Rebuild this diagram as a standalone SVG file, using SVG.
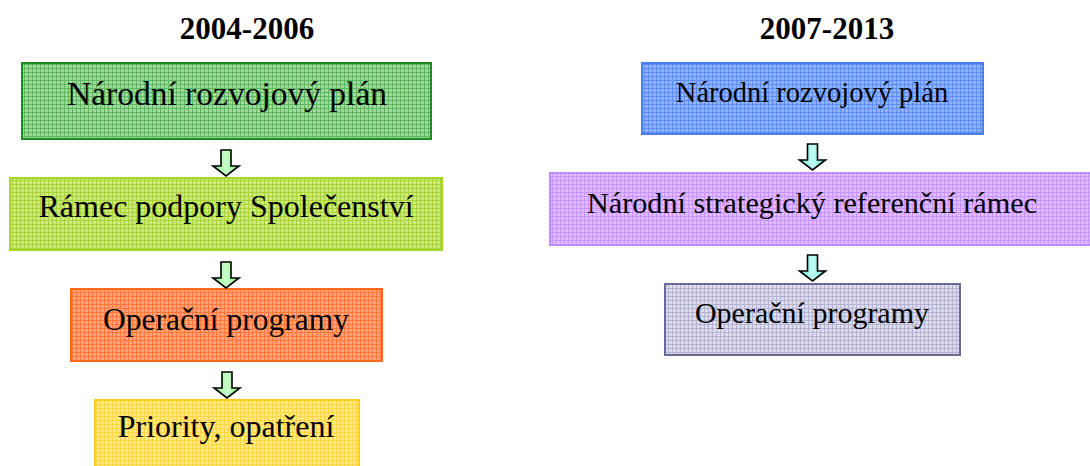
<svg xmlns="http://www.w3.org/2000/svg" width="1090" height="466" viewBox="0 0 1090 466">
<style>
.t{font-family:"Liberation Serif","Times New Roman",serif;fill:#000;text-anchor:middle}
.h{font-family:"Liberation Serif","Times New Roman",serif;font-weight:bold;font-size:31px;text-anchor:middle;fill:#000}
.b{stroke-width:2}
.ar{stroke:#000;stroke-width:1.6;stroke-linejoin:miter}
</style>
<defs>
<pattern id="pg1" width="4" height="4" patternUnits="userSpaceOnUse"><rect width="4" height="4" fill="#9fdb9f"/><path d="M0 .5H4M.5 0V4" stroke="#5fb85f" stroke-width="1"/></pattern>
<pattern id="pg2" width="4" height="4" patternUnits="userSpaceOnUse"><rect width="4" height="4" fill="#cdea7a"/><path d="M0 .5H4M.5 0V4" stroke="#a9d43c" stroke-width="1"/></pattern>
<pattern id="pg3" width="4" height="4" patternUnits="userSpaceOnUse"><rect width="4" height="4" fill="#ffa27a"/><path d="M0 .5H4M.5 0V4" stroke="#ff7a3a" stroke-width="1"/></pattern>
<pattern id="pg4" width="4" height="4" patternUnits="userSpaceOnUse"><rect width="4" height="4" fill="#ffe88c"/><path d="M0 .5H4M.5 0V4" stroke="#ffd54a" stroke-width="1"/></pattern>
<pattern id="pg5" width="4" height="4" patternUnits="userSpaceOnUse"><rect width="4" height="4" fill="#8fb2ff"/><path d="M0 .5H4M.5 0V4" stroke="#5f8ef2" stroke-width="1"/></pattern>
<pattern id="pg6" width="4" height="4" patternUnits="userSpaceOnUse"><rect width="4" height="4" fill="#e0bcff"/><path d="M0 .5H4M.5 0V4" stroke="#c895ff" stroke-width="1"/></pattern>
<pattern id="pg7" width="4" height="4" patternUnits="userSpaceOnUse"><rect width="4" height="4" fill="#dcdcee"/><path d="M0 .5H4M.5 0V4" stroke="#b4b4d2" stroke-width="1"/></pattern>
<linearGradient id="ga" x1="0" y1="0" x2="1" y2="0"><stop offset="0" stop-color="#88f088"/><stop offset=".5" stop-color="#c8ffc8"/><stop offset="1" stop-color="#88f088"/></linearGradient>
<linearGradient id="gb" x1="0" y1="0" x2="1" y2="0"><stop offset="0" stop-color="#6ee8d8"/><stop offset=".5" stop-color="#c0fff4"/><stop offset="1" stop-color="#6ee8d8"/></linearGradient>
<path id="arw" d="M-5 0H5V16H13L0 26L-13 16H-5Z"/>
</defs>

<text class="h" x="247" y="39">2004-2006</text>
<text class="h" x="827" y="39">2007-2013</text>

<g id="n-l1"><rect class="b" x="22" y="63" width="409" height="76" fill="url(#pg1)" stroke="#1f8a1f"/><text class="t" x="227" y="105" font-size="33.5">Národní rozvojový plán</text></g>
<g id="n-l2"><rect class="b" x="10" y="178" width="432" height="72" fill="url(#pg2)" stroke="#a6d32a"/><text class="t" x="226" y="217" font-size="32">Rámec podpory Společenství</text></g>
<g id="n-l3"><rect class="b" x="71" y="289" width="311" height="72" fill="url(#pg3)" stroke="#ff6a1a"/><text class="t" x="226" y="330" font-size="31.5">Operační programy</text></g>
<g id="n-l4"><rect class="b" x="95" y="400" width="264" height="72" fill="url(#pg4)" stroke="#ffcc22"/><text class="t" x="226" y="437" font-size="32">Priority, opatření</text></g>

<g id="n-r1"><rect class="b" x="642" y="63" width="341" height="71" fill="url(#pg5)" stroke="#4d7ff2"/><text class="t" x="812" y="102" font-size="28.5">Národní rozvojový plán</text></g>
<g id="n-r2"><rect class="b" x="550" y="173" width="542" height="72" fill="url(#pg6)" stroke="#c08cff"/><text class="t" x="812" y="213" font-size="30.2">Národní strategický referenční rámec</text></g>
<g id="n-r3"><rect class="b" x="665" y="284" width="295" height="71" fill="url(#pg7)" stroke="#6a6a98"/><text class="t" x="812" y="323" font-size="30">Operační programy</text></g>

<g id="connectors">
<use href="#arw" class="ar" fill="url(#ga)" transform="translate(226,150)"/>
<use href="#arw" class="ar" fill="url(#ga)" transform="translate(226,262)"/>
<use href="#arw" class="ar" fill="url(#ga)" transform="translate(227,372)"/>
<use href="#arw" class="ar" fill="url(#gb)" transform="translate(812.5,144)"/>
<use href="#arw" class="ar" fill="url(#gb)" transform="translate(812.5,255)"/>
</g>
</svg>
